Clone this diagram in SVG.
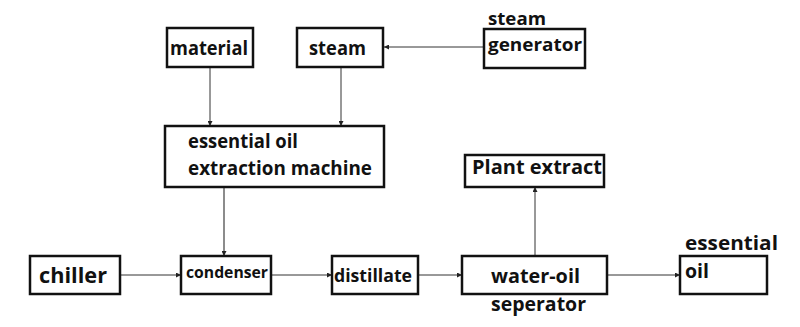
<svg xmlns="http://www.w3.org/2000/svg" width="800" height="327" viewBox="0 0 800 327">
<defs>
<style>
.box{fill:#fff;stroke:#111;stroke-width:2.5}
.t{font-family:"Open Sans","Noto Sans","DejaVu Sans",sans-serif;font-weight:bold;fill:#111}
.c{stroke:#333;stroke-width:1;fill:none;marker-end:url(#ah)}
</style>
<marker id="ah" viewBox="0 0 8 8" refX="8" refY="4" markerWidth="5" markerHeight="5" orient="auto" markerUnits="userSpaceOnUse">
<path d="M0,0 L8,4 L0,8 z" fill="#222"/>
</marker>
</defs>
<rect width="800" height="327" fill="#fff"/>
<g id="connectors">
<line class="c" x1="210" y1="67" x2="210" y2="126"/>
<line class="c" x1="341" y1="67" x2="341" y2="126"/>
<line class="c" x1="484" y1="47" x2="384" y2="47"/>
<line class="c" x1="224" y1="187" x2="224" y2="256" style="stroke:#666;stroke-width:1.5"/>
<line class="c" x1="120" y1="275" x2="181" y2="275"/>
<line class="c" x1="271" y1="275" x2="332" y2="275"/>
<line class="c" x1="418" y1="275" x2="462" y2="275"/>
<line class="c" x1="607" y1="275" x2="680" y2="275"/>
<line class="c" x1="535" y1="256" x2="535" y2="187"/>
</g>
<g id="material">
<rect class="box" x="167" y="28" width="86" height="39"/>
<text class="t" x="170" y="55" font-size="19" textLength="78" lengthAdjust="spacingAndGlyphs">material</text>
</g>
<g id="steam">
<rect class="box" x="297" y="28" width="86" height="39"/>
<text class="t" x="309" y="55" font-size="19" textLength="57" lengthAdjust="spacingAndGlyphs">steam</text>
</g>
<g id="steam-generator">
<rect class="box" x="484" y="29" width="101" height="39"/>
<text class="t" x="488" y="25" font-size="18" textLength="58" lengthAdjust="spacingAndGlyphs">steam</text>
<text class="t" x="488" y="51" font-size="18" textLength="94" lengthAdjust="spacingAndGlyphs">generator</text>
</g>
<g id="extraction-machine">
<rect class="box" x="165" y="126" width="219" height="61"/>
<text class="t" x="188" y="148" font-size="20" textLength="110" lengthAdjust="spacingAndGlyphs">essential oil</text>
<text class="t" x="188" y="175" font-size="20" textLength="184" lengthAdjust="spacingAndGlyphs">extraction machine</text>
</g>
<g id="plant-extract">
<rect class="box" x="465" y="155" width="139" height="32"/>
<text class="t" x="472" y="174" font-size="20" textLength="130" lengthAdjust="spacingAndGlyphs">Plant extract</text>
</g>
<g id="chiller">
<rect class="box" x="30" y="256" width="90" height="38"/>
<text class="t" x="39" y="283" font-size="22" textLength="68" lengthAdjust="spacingAndGlyphs">chiller</text>
</g>
<g id="condenser">
<rect class="box" x="181" y="256" width="90" height="38"/>
<text class="t" x="186" y="278" font-size="16" textLength="82" lengthAdjust="spacingAndGlyphs">condenser</text>
</g>
<g id="distillate">
<rect class="box" x="332" y="256" width="86" height="38"/>
<text class="t" x="334" y="282" font-size="17" textLength="78" lengthAdjust="spacingAndGlyphs">distillate</text>
</g>
<g id="water-oil-seperator">
<rect class="box" x="462" y="256" width="145" height="38"/>
<text class="t" x="491" y="283" font-size="19" textLength="89" lengthAdjust="spacingAndGlyphs">water-oil</text>
<text class="t" x="491" y="311" font-size="19" textLength="95" lengthAdjust="spacingAndGlyphs">seperator</text>
</g>
<g id="essential-oil">
<rect class="box" x="680" y="256" width="87" height="38"/>
<text class="t" x="685" y="250" font-size="20" textLength="93" lengthAdjust="spacingAndGlyphs">essential</text>
<text class="t" x="685" y="278" font-size="20" textLength="24" lengthAdjust="spacingAndGlyphs">oil</text>
</g>
</svg>
